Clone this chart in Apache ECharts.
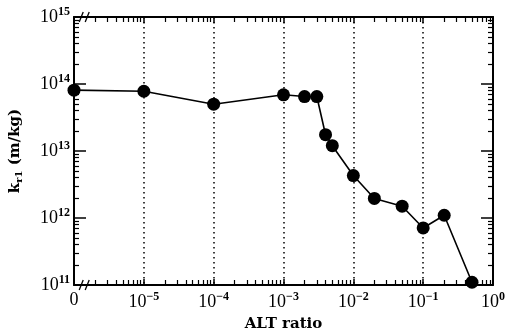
<!DOCTYPE html>
<html>
<head>
<meta charset="utf-8">
<script src="https://cdn.jsdelivr.net/npm/echarts@6/dist/echarts.min.js"></script>
<style>
  html, body { margin: 0; padding: 0; background: #fff; }
  #chart { width: 513px; height: 331px; }
</style>
</head>
<body>
<div id="chart"></div>
<script>
// ALT ratio (the "0" point sits at the 1e-6 position of the broken axis)
var altRatio = [1e-6, 1e-5, 1e-4, 1e-3, 2e-3, 3e-3, 4e-3, 5e-3, 1e-2, 2e-2, 5e-2, 1e-1, 2e-1, 5e-1];
var kr1 = [8.1e13, 7.8e13, 5.0e13, 6.9e13, 6.5e13, 6.5e13, 1.75e13, 1.2e13, 4.3e12, 1.96e12, 1.5e12, 7.1e11, 1.1e12, 1.1e11];
var xRange = [1e-6, 1];
var yRange = [1e11, 1e15];

var FONT = '"Liberation Serif", "DejaVu Serif", serif';
var NAME_FONT = '"DejaVu Serif", "Liberation Serif", serif';
var chart = echarts.init(document.getElementById('chart'));

// minor tick positions (in decades): log10 of 2..9 within each decade
function minorTicks(range) {
    var out = [];
    var lo = Math.round(Math.log10(range[0])), hi = Math.round(Math.log10(range[1]));
    for (var d = lo; d < hi; d++) {
        for (var m = 2; m <= 9; m++) out.push(d + Math.log10(m));
    }
    return out;
}

function powLabel(v) {
    var e = Math.round(Math.log10(v));
    return '{b|10}{s|' + (e < 0 ? '\u2212' + (-e) : e) + '}';
}
var richTick = {
    b: { fontFamily: FONT, fontSize: 18, color: '#000' },
    s: { fontFamily: FONT, fontSize: 12, fontWeight: 'bold', color: '#000', padding: [0, 0, 11, 0] }
};

var xData = altRatio.map(function (x, i) { return [x, kr1[i]]; });

function majorAxis(range, extra) {
    return Object.assign({
        type: 'log', logBase: 10, min: range[0], max: range[1],
        axisLine: { show: true, onZero: false, lineStyle: { color: '#000', width: 2 } },
        axisTick: { show: true, inside: true, length: 6, lineStyle: { color: '#000', width: 1.5 } },
        splitLine: { show: false },
        axisLabel: { show: false }
    }, extra);
}
// linear axis in decade units, only used to draw the 2..9 minor ticks
function minorAxis(range, pos, len) {
    return {
        type: 'value',
        min: Math.log10(range[0]), max: Math.log10(range[1]),
        gridIndex: 1, position: pos,
        axisLine: { show: false, onZero: false },
        axisTick: { show: true, inside: true, length: len, customValues: minorTicks(range),
                    lineStyle: { color: '#000', width: 1.2 } },
        axisLabel: { show: false },
        splitLine: { show: false }
    };
}

var gridBox = { left: 74, right: 20, top: 17, bottom: 46, outerBoundsMode: 'none', containLabel: false };
var yMajorTick = { show: true, inside: true, length: 12, lineStyle: { color: '#000', width: 1.5 } };

var option = {
    backgroundColor: '#fff',
    animation: false,
    grid: [Object.assign({}, gridBox), Object.assign({}, gridBox)],
    xAxis: [
        majorAxis(xRange, {
            position: 'bottom',
            name: 'ALT ratio',
            nameLocation: 'middle',
            nameGap: 27,
            nameTextStyle: { fontFamily: NAME_FONT, fontSize: 15, fontWeight: 'bold', color: '#000' },
            axisLabel: {
                show: true,
                margin: 6,
                formatter: function (v) { return v <= xRange[0] * 1.0001 ? '{b|0}' : powLabel(v); },
                rich: richTick
            },
            splitLine: { show: true, lineStyle: { color: '#000', type: [1.5, 3.5], width: 1.5 } }
        }),
        majorAxis(xRange, { position: 'top' }),
        minorAxis(xRange, 'bottom', 5),
        minorAxis(xRange, 'top', 5)
    ],
    yAxis: [
        majorAxis(yRange, {
            position: 'left',
            axisTick: yMajorTick,
            name: '{k|k}{r|r1}{k| (m/kg)}',
            nameLocation: 'middle',
            nameRotate: 90,
            nameGap: 50,
            nameTextStyle: {
                rich: {
                    k: { fontFamily: NAME_FONT, fontSize: 15, fontWeight: 'bold', color: '#000' },
                    r: { fontFamily: NAME_FONT, fontSize: 10, fontWeight: 'bold', color: '#000', padding: [7, 0, 0, 0] }
                }
            },
            axisLabel: { show: true, margin: 4, formatter: powLabel, rich: richTick }
        }),
        majorAxis(yRange, { position: 'right', axisTick: yMajorTick }),
        minorAxis(yRange, 'left', 5),
        minorAxis(yRange, 'right', 5)
    ],
    series: [{
        type: 'line',
        data: xData,
        symbol: 'circle',
        symbolSize: 13,
        itemStyle: { color: '#000' },
        lineStyle: { color: '#000', width: 1.6 },
        clip: false
    }]
};
chart.setOption(option);

// axis break marks near the "0" end of the x axis
function breakMark(yVal) {
    var p = chart.convertToPixel({ xAxisIndex: 0, yAxisIndex: 0 }, [1.4e-6, yVal]);
    return {
        type: 'group', x: p[0], y: p[1],
        children: [
            { type: 'rect', shape: { x: -4, y: -4, width: 8, height: 8 }, style: { fill: '#fff' } },
            { type: 'line', shape: { x1: -5, y1: 5, x2: -1, y2: -5 }, style: { stroke: '#000', lineWidth: 1.3 } },
            { type: 'line', shape: { x1: 1, y1: 5, x2: 5, y2: -5 }, style: { stroke: '#000', lineWidth: 1.3 } }
        ]
    };
}
chart.setOption({ graphic: [breakMark(yRange[0]), breakMark(yRange[1])] });
</script>
</body>
</html>
